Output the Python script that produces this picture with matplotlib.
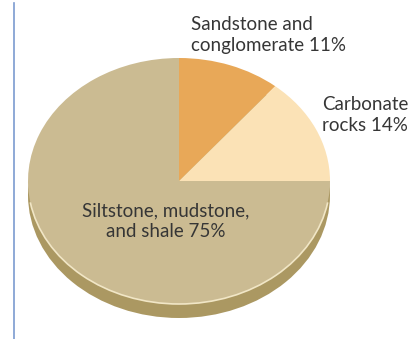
import matplotlib
matplotlib.use('Agg')
import matplotlib.pyplot as plt
from matplotlib.patches import Ellipse, Arc
from matplotlib.lines import Line2D

# data
labels = ['Sandstone and\nconglomerate 11%', 'Carbonate\nrocks 14%', 'Siltstone, mudstone,\nand shale 75%']
shares = [11, 14, 75]
colors = ['#e8a858', '#fbe2b6', '#cbbb92']

W, H = 411, 339
fig = plt.figure(figsize=(W / 100, H / 100), dpi=100)
ax = fig.add_axes([0, 0, 1, 1])

# pie geometry in pixels (flattened ellipse)
cx, cy = 179, 181
rx, ry = 151, 123
depth = 14

wedges, _ = ax.pie(shares, colors=colors, startangle=90, counterclock=False,
                   radius=1, center=(0, 0), wedgeprops=dict(linewidth=0))
for w in wedges:
    w.set_zorder(3)

# pie thickness underneath
ax.add_patch(Ellipse((0, -depth / ry), 2, 2, facecolor='#ab9862',
                     edgecolor='none', zorder=1))
# light rim along the lower edge of the top face
ax.add_patch(Arc((0, 0), 2, 2, theta1=190, theta2=350, color='#f1e6c6',
                 lw=1.2, zorder=4))

ax.set_aspect('auto')
ax.set_xlim(-cx / rx, (W - cx) / rx)
ax.set_ylim(-(H - cy) / ry, cy / ry)
ax.axis('off')

plt.rcParams['font.family'] = ['Lato', 'DejaVu Sans']
txt = dict(fontsize=13.5, color='#363636', linespacing=1.3)
fig.text(191 / W, 1 - 35 / H, labels[0], ha='left', va='center', **txt)
fig.text(322 / W, 1 - 115 / H, labels[1], ha='left', va='center', **txt)
fig.text(166 / W, 1 - 221 / H, labels[2], ha='center', va='center', **txt)

# thin blue page rule on the left
fig.add_artist(Line2D([14 / W, 14 / W], [0, 1 - 3 / H], color='#7b9bd0', lw=1.2))

fig.savefig('out.png', dpi=100, facecolor='white')
